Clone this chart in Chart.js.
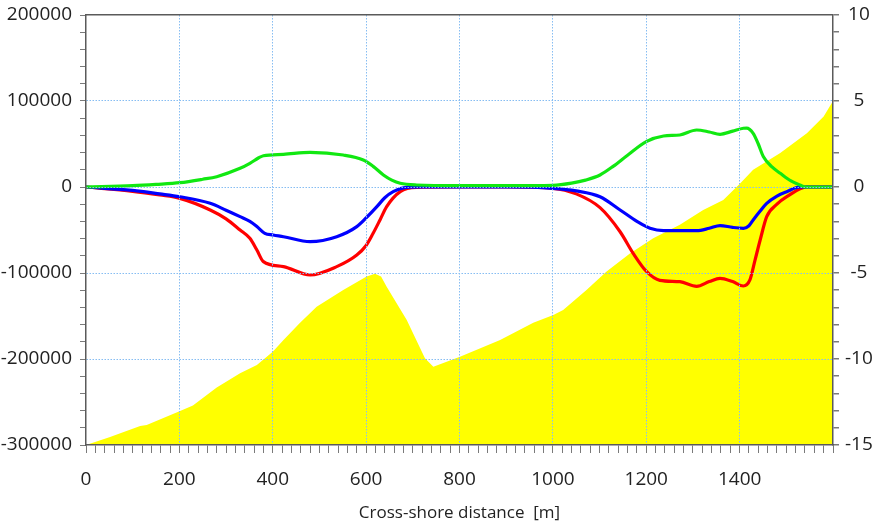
<!DOCTYPE html>
<html>
<head>
<meta charset="utf-8">
<script src="https://cdn.jsdelivr.net/npm/chart.js@4/dist/chart.umd.min.js"></script>
<style>
html,body{margin:0;padding:0;background:#fff;}
#wrap{width:875px;height:529px;}
</style>
</head>
<body>
<div id="wrap"><canvas id="c" width="875" height="529"></canvas></div>
<script>
// Bed profile (right axis, m)
const bedX = [0, 50, 116, 130, 199, 229, 280, 330, 366, 400, 423, 458, 494, 551, 601, 619, 632, 644, 687, 726, 744, 801, 887, 958, 1001, 1022, 1072, 1115, 1165, 1215, 1272, 1322, 1365, 1401, 1429, 1487, 1544, 1580, 1600];
const bedZ = [-15, -14.55, -13.9, -13.84, -13.05, -12.7, -11.65, -10.83, -10.35, -9.58, -8.9, -7.9, -6.96, -5.99, -5.2, -5.05, -5.2, -5.8, -7.73, -9.96, -10.45, -9.87, -8.9, -7.89, -7.44, -7.15, -5.99, -4.92, -3.86, -2.98, -2.2, -1.34, -0.76, 0.2, 1.0, 1.97, 3.13, 4.1, 5.0];

// Green series (left axis)
const greenX = [0, 100, 150, 201, 250, 280, 330, 351, 370, 380, 423, 480, 551, 594, 615, 637, 655, 673, 708, 800, 900, 1000, 1040, 1070, 1101, 1129, 1160, 1201, 1237, 1272, 1308, 1335, 1358, 1385, 1408, 1415, 1429, 1440, 1451, 1470, 1487, 1510, 1529, 1540, 1600];
const greenY = [0, 1500, 3000, 5000, 9000, 12000, 21700, 27500, 34000, 36400, 38000, 40300, 37200, 31400, 24000, 14000, 8000, 4300, 2300, 1500, 1500, 2000, 4500, 8000, 14000, 24000, 37000, 53000, 59300, 60500, 66300, 64000, 61300, 65000, 68300, 68500, 62400, 50000, 35200, 23000, 15900, 7000, 2300, 0, 0];

// Blue series (left axis)
const blueX = [0, 100, 158, 201, 266, 300, 330, 351, 366, 383, 401, 423, 480, 537, 580, 600, 623, 640, 658, 687, 720, 800, 900, 1000, 1050, 1101, 1144, 1180, 1208, 1237, 1270, 1308, 1335, 1358, 1385, 1408, 1420, 1429, 1444, 1458, 1480, 1501, 1529, 1600];
const blueY = [0, -4000, -8000, -11300, -19000, -27000, -34500, -40000, -46000, -53900, -55800, -57800, -63600, -57800, -46100, -36000, -22900, -12500, -5400, -400, 0, 0, 0, -1500, -4500, -11300, -26700, -40000, -48000, -50800, -50800, -50800, -48000, -44800, -47000, -48000, -45000, -38400, -28000, -19000, -10500, -5400, 0, 0];

// Red series (left axis)
const redX = [0, 100, 158, 201, 266, 300, 330, 351, 366, 380, 423, 480, 537, 580, 600, 615, 630, 644, 673, 708, 800, 900, 1000, 1050, 1101, 1144, 1172, 1201, 1229, 1272, 1308, 1335, 1358, 1385, 1408, 1422, 1433, 1444, 1458, 1480, 1501, 1544, 1600];
const redY = [0, -5000, -9300, -13200, -26700, -37000, -50000, -59700, -73300, -86800, -92600, -102300, -92600, -79100, -68000, -53800, -38000, -22900, -5400, -400, 0, 0, -1500, -8000, -24000, -52000, -77100, -98500, -108500, -110100, -115500, -110000, -106200, -110000, -115100, -108100, -85000, -61600, -34500, -20000, -11300, 0, 0];

const xTitle = 'Cross-shore distance  [m]';

const pts = (xs, ys) => xs.map((x, i) => ({x: x, y: ys[i]}));
const FONT = "'Open Sans', sans-serif";
const GRID = '#86bdf2';
const AX = '#5a5a5a';
const TK = '#7a7a7a';
const TXT = '#222';

const lineDs = (xs, ys, color) => ({
  data: pts(xs, ys), yAxisID: 'y', xAxisID: 'x',
  borderColor: color, borderWidth: 3.2, pointRadius: 0, fill: false,
  cubicInterpolationMode: 'monotone'
});

const noPadV = s => { s.paddingTop = 0; s.paddingBottom = 0; };

new Chart(document.getElementById('c'), {
  type: 'line',
  data: {
    datasets: [
      lineDs(greenX, greenY, '#11e811'),
      lineDs(blueX, blueY, '#0000ff'),
      lineDs(redX, redY, '#ff0000'),
      {
        data: pts(bedX, bedZ), yAxisID: 'y2', xAxisID: 'x',
        borderWidth: 0, borderColor: 'rgba(0,0,0,0)', backgroundColor: '#ffff00',
        pointRadius: 0, fill: 'start', tension: 0
      }
    ]
  },
  options: {
    responsive: false,
    animation: false,
    layout: {padding: {top: 15, left: 0, right: 0, bottom: 0}},
    plugins: {legend: {display: false}, tooltip: {enabled: false}},
    scales: {
      x: {
        type: 'linear', position: 'bottom', min: 0, max: 1600,
        afterFit: s => { s.height = 84; s.paddingLeft = 0; s.paddingRight = 0; },
        ticks: {
          stepSize: 20, autoSkip: false, maxTicksLimit: 200, maxRotation: 0,
          padding: 15, color: TXT, font: {family: FONT, size: 19},
          callback: v => (v % 200 === 0 && v < 1600) ? String(v) : ''
        },
        grid: {
          z: 1, tickLength: 8, tickColor: TK, lineWidth: 1,
          color: c => (c.tick && c.tick.value % 200 === 0 && c.tick.value > 0 && c.tick.value < 1600) ? GRID : 'rgba(0,0,0,0)'
        },
        border: {display: true, z: 2, color: AX, width: 1.5, dash: [1.5, 1.5]},
        title: {display: true, text: xTitle, color: TXT, font: {family: FONT, size: 17}, padding: {top: 0, bottom: 6}}
      },
      y: {
        type: 'linear', position: 'left', min: -300000, max: 200000,
        afterFit: s => { s.width = 86; noPadV(s); },
        ticks: {
          stepSize: 20000, autoSkip: false, maxTicksLimit: 200,
          padding: 8, color: TXT, font: {family: FONT, size: 19},
          callback: v => (v % 100000 === 0) ? String(v) : ''
        },
        grid: {
          z: 1, tickLength: 6, tickColor: TK, lineWidth: 1,
          color: c => (c.tick && c.tick.value % 100000 === 0 && c.tick.value > -300000 && c.tick.value < 200000) ? GRID : 'rgba(0,0,0,0)'
        },
        border: {display: true, z: 2, color: AX, width: 1.5, dash: [1.5, 1.5]}
      },
      y2: {
        type: 'linear', position: 'right', min: -15, max: 10,
        afterFit: s => { s.width = 42; noPadV(s); },
        ticks: {
          stepSize: 1, autoSkip: false, maxTicksLimit: 200,
          padding: 6, color: TXT, font: {family: FONT, size: 19}, crossAlign: 'center',
          callback: v => (v % 5 === 0) ? String(v) : ''
        },
        grid: {
          z: 1, drawOnChartArea: true, tickLength: 6, tickColor: TK, lineWidth: 1.5,
          color: c => (c.tick && c.tick.value === 10) ? AX : 'rgba(0,0,0,0)'
        },
        border: {display: true, z: 2, color: AX, width: 1.5}
      }
    }
  }
});
</script>
</body>
</html>
